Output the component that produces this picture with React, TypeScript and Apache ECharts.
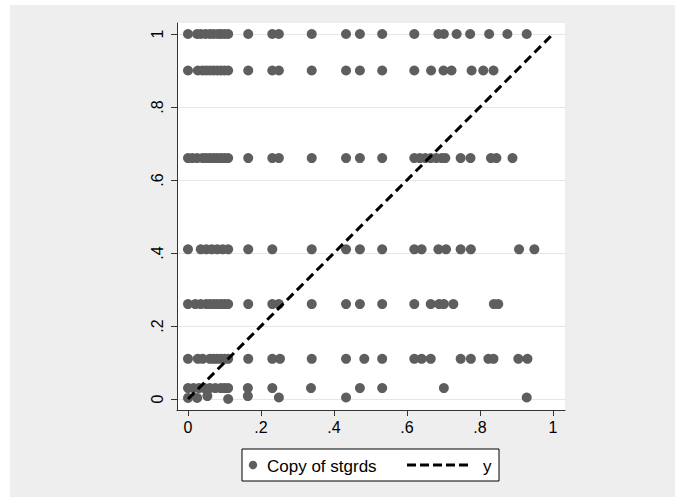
import React, { useEffect, useRef } from "react";
import * as echarts from "echarts";

// y levels of the rows of points
const yLevels = [1, 0.9, 0.66, 0.41, 0.26, 0.11, 0.03];

// x values per row
const xRow100 = [0, 0.025, 0.035, 0.048, 0.06, 0.07, 0.082, 0.09, 0.1, 0.11, 0.165, 0.231, 0.249, 0.339, 0.433, 0.471, 0.532, 0.62, 0.686, 0.701, 0.736, 0.773, 0.825, 0.875, 0.928];
const xRow090 = [0, 0.027, 0.04, 0.05, 0.06, 0.07, 0.08, 0.09, 0.1, 0.11, 0.165, 0.231, 0.249, 0.339, 0.433, 0.471, 0.532, 0.62, 0.666, 0.7, 0.722, 0.777, 0.809, 0.837];
const xRow066 = [0, 0.012, 0.025, 0.04, 0.05, 0.06, 0.07, 0.08, 0.09, 0.1, 0.11, 0.165, 0.231, 0.249, 0.339, 0.433, 0.471, 0.532, 0.62, 0.635, 0.65, 0.665, 0.68, 0.695, 0.705, 0.747, 0.774, 0.83, 0.845, 0.889];
const xRow041 = [0, 0.035, 0.05, 0.065, 0.08, 0.095, 0.11, 0.165, 0.231, 0.339, 0.433, 0.471, 0.532, 0.62, 0.64, 0.686, 0.707, 0.747, 0.775, 0.907, 0.949];
const xRow026 = [0, 0.02, 0.035, 0.05, 0.06, 0.07, 0.08, 0.09, 0.1, 0.11, 0.165, 0.231, 0.249, 0.339, 0.433, 0.471, 0.532, 0.62, 0.665, 0.688, 0.701, 0.727, 0.838, 0.85];
const xRow011 = [0, 0.027, 0.04, 0.06, 0.07, 0.08, 0.09, 0.1, 0.11, 0.165, 0.231, 0.252, 0.339, 0.433, 0.483, 0.532, 0.62, 0.64, 0.665, 0.747, 0.775, 0.823, 0.837, 0.905, 0.93];
const xRow003 = [0, 0.015, 0.03, 0.045, 0.06, 0.075, 0.09, 0.1, 0.11, 0.164, 0.231, 0.337, 0.471, 0.532, 0.701];
const rowsX = [xRow100, xRow090, xRow066, xRow041, xRow026, xRow011, xRow003];

// points lying just above zero
const bottomX = [0, 0.025, 0.053, 0.11, 0.164, 0.249, 0.433, 0.928];
const bottomY = [0.003, 0.003, 0.008, 0.0, 0.008, 0.004, 0.004, 0.004];

// reference line y = x
const lineX = [0, 1];
const lineY = [0, 1];

const tickValues = [0, 0.2, 0.4, 0.6, 0.8, 1];
const tickLabels = ["0", ".2", ".4", ".6", ".8", "1"];

const MARKER = "#5e5e5e";
const FONT = '"Liberation Sans", Arial, sans-serif';

export default function App() {
  const ref = useRef<HTMLDivElement>(null);

  useEffect(() => {
    if (!ref.current) return;
    const chart = echarts.init(ref.current, null, { renderer: "svg" });

    const scatterData: number[][] = [];
    rowsX.forEach((xs, i) => xs.forEach((x) => scatterData.push([x, yLevels[i]])));
    bottomX.forEach((x, i) => scatterData.push([x, bottomY[i]]));
    const lineData = lineX.map((x, i) => [x, lineY[i]]);

    const fmt = (v: number) => {
      const idx = tickValues.findIndex((t) => Math.abs(t - v) < 1e-9);
      return idx >= 0 ? tickLabels[idx] : "";
    };

    chart.setOption({
      animation: false,
      backgroundColor: "#ffffff",
      grid: {
        left: 177,
        top: 23,
        width: 388,
        height: 387,
        show: true,
        backgroundColor: "#ffffff",
        borderWidth: 0,
        containLabel: false,
      },
      xAxis: {
        type: "value",
        min: -11 / 365,
        max: 1 + 12 / 365,
        axisLine: { show: true, onZero: false, lineStyle: { color: "#333", width: 1 } },
        axisTick: { show: true, customValues: tickValues, length: 6, lineStyle: { color: "#333" } },
        axisLabel: {
          customValues: tickValues,
          formatter: fmt,
          fontSize: 16,
          fontFamily: FONT,
          color: "#000",
          margin: 9,
        },
        splitLine: { show: false },
      },
      yAxis: {
        type: "value",
        min: -11 / 365,
        max: 1 + 11 / 365,
        axisLine: { show: true, onZero: false, lineStyle: { color: "#333", width: 1 } },
        axisTick: { show: true, customValues: tickValues, length: 6, lineStyle: { color: "#333" } },
        axisLabel: {
          customValues: tickValues,
          formatter: fmt,
          fontSize: 16,
          fontFamily: FONT,
          color: "#000",
          rotate: 90,
          margin: 12,
        },
        splitLine: { show: true, lineStyle: { color: "#e6e6e6", width: 1.2 } },
      },
      graphic: [
        {
          type: "rect",
          z: -100,
          silent: true,
          shape: { x: 10, y: 5, width: 665, height: 492 },
          style: { fill: "#eeeeee" },
        },
        {
          type: "rect",
          shape: { x: 242, y: 449, width: 257, height: 32 },
          style: { fill: "#ffffff", stroke: "#000", lineWidth: 1 },
        },
        {
          type: "circle",
          shape: { cx: 253, cy: 465, r: 4.2 },
          style: { fill: MARKER },
        },
        {
          type: "text",
          style: {
            text: "Copy of stgrds",
            x: 267,
            y: 466,
            fill: "#000",
            font: `17px ${FONT}`,
            align: "left",
            verticalAlign: "middle",
          },
        },
        {
          type: "line",
          shape: { x1: 407, y1: 465, x2: 472, y2: 465 },
          style: { stroke: "#000", lineWidth: 3, lineDash: [9, 4] },
        },
        {
          type: "text",
          style: {
            text: "y",
            x: 483,
            y: 466,
            fill: "#000",
            font: `17px ${FONT}`,
            align: "left",
            verticalAlign: "middle",
          },
        },
      ],
      series: [
        {
          name: "Copy of stgrds",
          type: "scatter",
          data: scatterData,
          symbol: "circle",
          symbolSize: 10,
          itemStyle: { color: MARKER, opacity: 1 },
          emphasis: { disabled: true },
          z: 2,
        },
        {
          name: "y",
          type: "line",
          data: lineData,
          showSymbol: false,
          symbol: "none",
          lineStyle: { color: "#000", width: 3, type: [9, 5] },
          emphasis: { disabled: true },
          z: 3,
        },
      ],
    });

    return () => chart.dispose();
  }, []);

  return (
    <div
      ref={ref}
      style={{ position: "fixed", left: 0, top: 0, width: 685, height: 502 }}
    />
  );
}
